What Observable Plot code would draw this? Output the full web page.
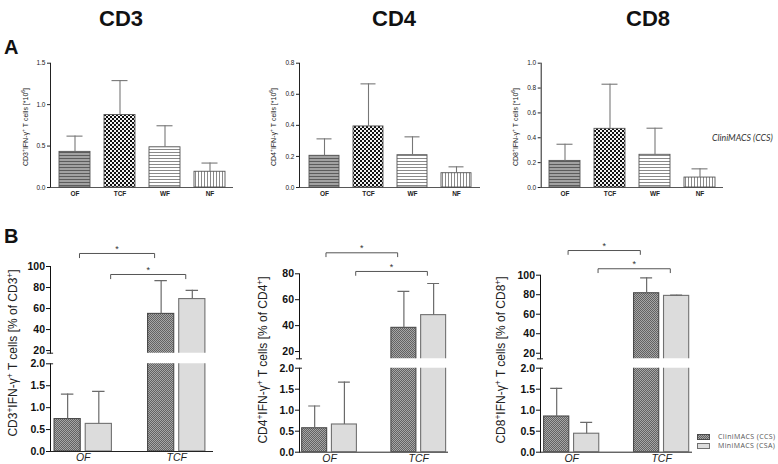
<!DOCTYPE html>
<html><head><meta charset="utf-8">
<script src="https://cdn.jsdelivr.net/npm/d3@7"></script>
<script src="https://cdn.jsdelivr.net/npm/@observablehq/plot@0.6"></script>
<style>
body{margin:0;background:#fff}
#root{position:relative;width:778px;height:464px;overflow:hidden;font-family:Arial,"Liberation Sans",sans-serif;color:#111}
.abs{position:absolute;white-space:nowrap;line-height:1}
.title{font-family:"Liberation Sans Narrow","Arial Narrow","Liberation Sans",Arial,sans-serif;font-weight:bold;font-size:22px;transform:translateX(-50%)}
.letter{font-weight:bold;font-size:20px}
.ylab{transform:translate(-50%,-50%) rotate(-90deg)}
.ylabA{font-size:7px;color:#222}
.ylabB{font-size:12px;color:#222}
.ylab sup{font-size:70%;line-height:0;vertical-align:0.5em}
.pa g[aria-label="x-axis tick label"]{font-weight:bold}
.leg{font-family:"Open Sans",sans-serif;font-size:7px;color:#555;letter-spacing:0.4px;display:flex;align-items:center;gap:8px;height:9px}
</style></head>
<body>
<svg width="0" height="0" style="position:absolute">
<defs>
<pattern id="pOF" width="3" height="3" patternUnits="userSpaceOnUse"><rect width="3" height="3" fill="#a2a2a2"/><rect width="3" height="1" fill="#5c5c5c"/></pattern>
<pattern id="pTCF" width="4" height="4" patternUnits="userSpaceOnUse"><rect width="4" height="4" fill="#f2f2f2"/><rect width="2" height="2" fill="#111"/><rect x="2" y="2" width="2" height="2" fill="#111"/></pattern>
<pattern id="pWF" width="3" height="3" patternUnits="userSpaceOnUse"><rect width="3" height="3" fill="#fff"/><rect width="3" height="1" fill="#8a8a8a"/></pattern>
<pattern id="pNF" width="3" height="3" patternUnits="userSpaceOnUse"><rect width="3" height="3" fill="#fff"/><rect width="1" height="3" fill="#8a8a8a"/></pattern>
<pattern id="pCCS" width="2" height="2" patternUnits="userSpaceOnUse"><rect width="2" height="2" fill="#a6a6a6"/><rect width="1" height="1" fill="#626262"/><rect x="1" y="1" width="1" height="1" fill="#626262"/></pattern>
</defs>
</svg>
<div id="root"></div>
<script>
// ---------- DATA ----------
const markers = ["CD3", "CD4", "CD8"];
const fractionsA = ["OF", "TCF", "WF", "NF"];
const countCD3 = [0.43, 0.875, 0.485, 0.19];
const countCD3Err = [0.62, 1.29, 0.745, 0.295];
const countCD4 = [0.204, 0.393, 0.208, 0.092];
const countCD4Err = [0.313, 0.667, 0.326, 0.133];
const countCD8 = [0.214, 0.472, 0.263, 0.08];
const countCD8Err = [0.348, 0.831, 0.477, 0.15];
const ticksA_CD3 = [0, 0.5, 1.0, 1.5];
const ticksA_CD4 = [0, 0.2, 0.4, 0.6, 0.8];
const ticksA_CD8 = [0, 0.2, 0.4, 0.6, 0.8, 1.0];

const fractionsB = ["OF", "TCF"];
const devices = ["CCS", "CSA"];
const deviceNames = ["CliniMACS (CCS)", "MiniMACS (CSA)"];
const pctCD3_CCS = [0.74, 54.9];
const pctCD3_CCS_Err = [1.31, 86.6];
const pctCD3_CSA = [0.63, 69.0];
const pctCD3_CSA_Err = [1.37, 77.3];
const pctCD4_CCS = [0.57, 38.3];
const pctCD4_CCS_Err = [1.10, 66.4];
const pctCD4_CSA = [0.66, 48.1];
const pctCD4_CSA_Err = [1.67, 72.5];
const pctCD8_CCS = [0.85, 81.5];
const pctCD8_CCS_Err = [1.52, 97.3];
const pctCD8_CSA = [0.44, 78.8];
const pctCD8_CSA_Err = [0.71, 79.5];
const ticksUpper_CD3 = [20, 40, 60, 80, 100];
const ticksUpper_CD4 = [20, 40, 60, 80];
const ticksUpper_CD8 = [20, 40, 60, 80, 100];
const ticksLower = [0, 0.5, 1.0, 1.5, 2.0];
const significance = ["*", "*"];

// ---------- STYLES / LAYOUT ----------
const patternA = {OF: "url(#pOF)", TCF: "url(#pTCF)", WF: "url(#pWF)", NF: "url(#pNF)"};
const fillB = {CCS: "url(#pCCS)", CSA: "#dcdcdc"};
const strokeB = {CCS: "#4a4a4a", CSA: "#707070"};
const root = document.getElementById("root");
const fmt1 = d3.format(".1f");

function place(el, left, top, cls) {
  el.style.position = "absolute";
  el.style.left = left + "px";
  el.style.top = top + "px";
  if (cls) el.classList.add(cls);
  root.appendChild(el);
  return el;
}
function html(str, left, top, cls) {
  const d = document.createElement("div");
  d.className = "abs " + (cls || "");
  d.innerHTML = str;
  d.style.left = left + "px";
  d.style.top = top + "px";
  root.appendChild(d);
  return d;
}

const baseStyle = {background: "transparent", overflow: "visible", fontFamily: "Arial, 'Liberation Sans', sans-serif", color: "#222"};

// ---------- PANEL A ----------
const geomA = {
  CD3: {left: 0, width: 240, ml: 50, mr: 7, ymax: 1.5, ticks: ticksA_CD3, means: countCD3, errs: countCD3Err, lab: 25},
  CD4: {left: 250, width: 237, ml: 49, mr: 7, ymax: 0.8, ticks: ticksA_CD4, means: countCD4, errs: countCD4Err, lab: 273},
  CD8: {left: 490, width: 240, ml: 50.7, mr: 7, ymax: 1.0, ticks: ticksA_CD8, means: countCD8, errs: countCD8Err, lab: 515}
};
for (const m of markers) {
  const g = geomA[m];
  const data = fractionsA.map((f, i) => ({fraction: f, mean: g.means[i], err: g.errs[i]}));
  const p = Plot.plot({
    width: g.width, height: 155,
    marginLeft: g.ml, marginRight: g.mr, marginTop: 12.7, marginBottom: 18,
    style: {...baseStyle, fontSize: "6.5px"},
    x: {domain: fractionsA, paddingInner: 0.31, paddingOuter: 0.18, align: 0.53, tickSize: 0, tickPadding: 3.5, label: null},
    y: {domain: [0, g.ymax], ticks: g.ticks, tickFormat: fmt1, tickSize: 3, tickPadding: 2, label: null, line: true},
    color: {type: "identity"},
    marks: [
      Plot.barY(data, {x: "fraction", y: "mean", fill: d => patternA[d.fraction], stroke: "#555", strokeWidth: 0.9}),
      Plot.ruleX(data, {x: "fraction", y1: "mean", y2: "err", stroke: "#777", strokeWidth: 1.1}),
      Plot.tickY(data, {x: "fraction", y: "err", stroke: "#777", strokeWidth: 1.1, insetLeft: 7.5, insetRight: 7.5}),
      Plot.ruleY([0], {stroke: "#444", strokeWidth: 0.9})
    ]
  });
  place(p, g.left, 50, "pa");
  html(m + "<sup>+</sup>IFN-γ<sup>+</sup> T cells [*10<sup>6</sup>]", g.lab, 127, "ylab ylabA");
}

// ---------- PANEL B ----------
const geomB = {
  CD3: {left: 0, width: 220, ml: 50, mr: 7, xd: [-0.55, 4.68],
        up: {top: 230, height: 123, mt: 36, mb: 0.3, yd: [17.5, 100], ticks: ticksUpper_CD3},
        lo: {top: 353, height: 111, mt: 10.3, mb: 13},
        ccs: pctCD3_CCS, ccsE: pctCD3_CCS_Err, csa: pctCD3_CSA, csaE: pctCD3_CSA_Err,
        levels: [112.4, 92.4], drop: 4, lab: [13, 353]},
  CD4: {left: 250, width: 203, ml: 49, mr: 5, xd: [-0.51, 4.5],
        up: {top: 230, height: 128.5, mt: 43.3, mb: 0.2, yd: [14.4, 80], ticks: ticksUpper_CD4},
        lo: {top: 359, height: 105, mt: 8.7, mb: 12.3},
        ccs: pctCD4_CCS, ccsE: pctCD4_CCS_Err, csa: pctCD4_CSA, csaE: pctCD4_CSA_Err,
        levels: [96.2, 81.8], drop: 3, lab: [263, 360]},
  CD8: {left: 490, width: 207, ml: 50, mr: 5, xd: [-0.54, 4.53],
        up: {top: 230, height: 128.5, mt: 44.7, mb: 0.2, yd: [14.3, 100], ticks: ticksUpper_CD8},
        lo: {top: 359, height: 105, mt: 8.7, mb: 12.3},
        ccs: pctCD8_CCS, ccsE: pctCD8_CCS_Err, csa: pctCD8_CSA, csaE: pctCD8_CSA_Err,
        levels: [125.3, 106.6], drop: 4, lab: [501, 360]}
};
const slot = (gi, di) => gi * 3 + di;
for (const m of markers) {
  const g = geomB[m];
  const data = [];
  fractionsB.forEach((f, gi) => {
    data.push({fraction: f, device: "CCS", x: slot(gi, 0), mean: g.ccs[gi], err: g.ccsE[gi]});
    data.push({fraction: f, device: "CSA", x: slot(gi, 1), mean: g.csa[gi], err: g.csaE[gi]});
  });
  const barMarks = [
    Plot.rectY(data, {x1: d => d.x - 0.42, x2: d => d.x + 0.42, y1: 0, y2: "mean", fill: d => fillB[d.device], stroke: d => strokeB[d.device], strokeWidth: 1.1, clip: true}),
    Plot.ruleX(data, {x: "x", y1: "mean", y2: "err", stroke: "#6a6a6a", strokeWidth: 1.2, clip: true}),
    Plot.ruleY(data, {y: "err", x1: d => d.x - 0.2, x2: d => d.x + 0.2, stroke: "#6a6a6a", strokeWidth: 1.2, clip: true})
  ];
  // brackets (one per device, OF -> TCF)
  const bracketPts = [];
  const stars = [];
  devices.forEach((dev, di) => {
    const xl = slot(0, di) + 0.38, xr = slot(1, di) - 0.21, lv = g.levels[di];
    bracketPts.push({id: dev, x: xl, y: lv - g.drop}, {id: dev, x: xl, y: lv}, {id: dev, x: xr, y: lv}, {id: dev, x: xr, y: lv - g.drop});
    stars.push({x: (xl + xr) / 2, y: lv, t: significance[di]});
  });
  const upper = Plot.plot({
    width: g.width, height: g.up.height,
    marginLeft: g.ml, marginRight: g.mr, marginTop: g.up.mt, marginBottom: g.up.mb,
    style: {...baseStyle, fontSize: "10.5px", fontWeight: "bold", color: "#111"},
    x: {domain: g.xd, axis: null},
    y: {domain: g.up.yd, ticks: g.up.ticks, tickSize: 4, tickPadding: 1.5, label: null, line: true},
    color: {type: "identity"},
    marks: [
      ...barMarks,
      Plot.line(bracketPts, {x: "x", y: "y", z: "id", stroke: "#555", strokeWidth: 1}),
      Plot.text(stars, {x: "x", y: "y", text: "t", fontSize: 9, fontWeight: "normal", lineAnchor: "bottom", dy: -1.5, fill: "#333"}),
      Plot.ruleY([g.up.yd[0]], {x1: g.xd[0] - 0.1, x2: g.xd[0] + 0.1, stroke: "#222"})
    ]
  });
  place(upper, g.left, g.up.top, "pb");
  const lower = Plot.plot({
    width: g.width, height: g.lo.height,
    marginLeft: g.ml, marginRight: g.mr, marginTop: g.lo.mt, marginBottom: g.lo.mb,
    style: {...baseStyle, fontSize: "10.5px", fontWeight: "bold", color: "#111"},
    x: {domain: g.xd, axis: null},
    y: {domain: [0, 2], ticks: ticksLower, tickFormat: fmt1, tickSize: 4, tickPadding: 1.5, label: null, line: true},
    color: {type: "identity"},
    marks: [
      ...barMarks,
      Plot.ruleY([0], {stroke: "#222", strokeWidth: 1}),
      Plot.ruleY([2], {x1: g.xd[0], x2: g.xd[0] + 0.1, stroke: "#222"}),
      Plot.text(fractionsB, {x: (d, i) => slot(i, 0) + 0.5, frameAnchor: "bottom", lineAnchor: "top", dy: 2.5, text: d => d, fontStyle: "italic", fontWeight: "normal", fontSize: 10.5, fill: "#222"})
    ]
  });
  place(lower, g.left, g.lo.top, "pb");
  html(m + "<sup>+</sup>IFN-γ<sup>+</sup> T cells [% of " + m + "<sup>+</sup>]", g.lab[0], g.lab[1], "ylab ylabB");
}

// ---------- TITLES / LABELS / LEGEND ----------
const titleX = [121, 394, 648];
markers.forEach((m, i) => html(m, titleX[i], 8, "title"));
html("A", 4, 37, "letter");
html("B", 4, 226, "letter");
const ccsNote = html(deviceNames[0], 712, 134, "");
ccsNote.style.cssText += "font-family:Lato,'Open Sans',sans-serif;font-style:italic;font-size:8.8px;color:#333";

const leg = document.createElement("div");
leg.className = "abs";
leg.style.left = "697px"; leg.style.top = "432px";
devices.forEach((dev, i) => {
  const row = document.createElement("div");
  row.className = "leg";
  row.innerHTML = `<svg width="13" height="6" style="overflow:visible"><rect x="0.5" y="0.5" width="12" height="5" fill="${fillB[dev]}" stroke="${strokeB[dev]}"/></svg><span>${deviceNames[i]}</span>`;
  leg.appendChild(row);
});
root.appendChild(leg);
</script>
</body></html>
